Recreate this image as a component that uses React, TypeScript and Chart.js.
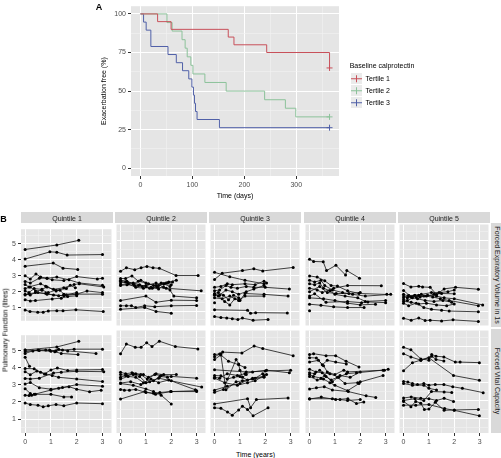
import React, { useEffect, useRef } from 'react';
import { Chart, registerables } from 'chart.js';
Chart.register(...registerables);

const FONT = "'Liberation Sans', Arial, Helvetica, sans-serif";
Chart.defaults.font.family = FONT;

// ---------------- Panel A : Kaplan-Meier ----------------
const tertileNames = ['Tertile 1', 'Tertile 2', 'Tertile 3'];
const tertileColors = ['#C8505A', '#8CC29A', '#5060A8'];
const t1Days = [0, 33, 59, 169, 180, 243, 364];
const t1Surv = [100, 95, 90, 85, 80, 75, 65];
const t2Days = [0, 51, 61, 80, 86, 90, 97, 101, 124, 165, 239, 279, 299, 364];
const t2Surv = [100, 94.4, 88.9, 83.3, 77.8, 72.2, 66.7, 61.1, 55.6, 50, 44.4, 38.9, 33.3, 33.3];
const t3Days = [0, 6, 11, 20, 53, 69, 81, 93, 99, 102, 104, 106, 109, 152, 364];
const t3Surv = [100, 94.7, 89.5, 78.9, 73.7, 68.4, 63.2, 57.9, 52.6, 47.4, 42.1, 36.8, 31.6, 26.3, 26.3];
const kmXTicks = [0, 100, 200, 300];
const kmXMinor = [50, 150, 250, 350];
const kmYTicks = [0, 25, 50, 75, 100];
const kmYMinor = [12.5, 37.5, 62.5, 87.5];

// ---------------- Panel B : lung function ----------------
const quintiles = ['Quintile 1', 'Quintile 2', 'Quintile 3', 'Quintile 4', 'Quintile 5'];
const measures = ['Forced Expiratory Volume in 1s', 'Forced Vital Capacity'];
const yearTicks = [0, 1, 2, 3];
const yearMinor = [0.5, 1.5, 2.5];
const litreTicks = [1, 2, 3, 4, 5];
const litreMinor = [0.5, 1.5, 2.5, 3.5, 4.5, 5.5];

type Pt = [number, number];

const q1Fev1: Pt[][] = [
  [[0, 4.65], [1.23, 4.93], [2.08, 5.22]],
  [[0, 4.05], [0.96, 4.5], [1.23, 4.48], [1.63, 4.3], [3.0, 4.33]],
  [[0, 3.6], [1.09, 3.8], [1.47, 3.48], [2.04, 3.4]],
  [[0, 3.0], [0.2, 2.8], [0.42, 3.12], [0.6, 2.92], [0.85, 2.85], [1.23, 2.92], [1.7, 2.75], [2.1, 2.55], [3.0, 2.4]],
  [[0, 2.65], [0.2, 2.55], [0.55, 2.85], [0.85, 2.85], [1.05, 2.75], [1.5, 2.7], [2.0, 2.95], [2.8, 2.8], [3.0, 2.85]],
  [[0, 2.45], [0.15, 2.3], [0.6, 2.5], [0.8, 2.35], [1.1, 2.15], [1.5, 2.25], [1.9, 2.45], [2.1, 2.5], [3.05, 2.3]],
  [[0, 2.2], [0.2, 2.3], [0.4, 2.05], [0.65, 2.1], [0.9, 1.95], [1.2, 2.1], [1.6, 2.2], [1.75, 2.4], [1.95, 2.25]],
  [[0, 2.05], [0.15, 1.95], [0.35, 2.2], [0.65, 2.15], [0.85, 2.3], [1.2, 2.05], [1.35, 2.1], [1.5, 1.85], [2.0, 1.85], [2.4, 2.05], [3.0, 1.95]],
  [[0, 1.85], [0.2, 1.8], [0.4, 1.95], [0.8, 1.9], [1.1, 1.8], [1.5, 1.75], [2.0, 1.85], [3.0, 1.85]],
  [[0, 1.8], [0.15, 1.88], [0.5, 1.95], [0.85, 1.85], [1.3, 1.75], [1.6, 1.8], [2.0, 1.95]],
  [[0, 1.5], [0.2, 1.42], [0.4, 1.45], [1.05, 1.55], [1.4, 1.6], [1.65, 1.7], [2.0, 1.75]],
  [[0, 0.85], [0.19, 0.76], [0.49, 0.72], [0.7, 0.72], [0.9, 0.8], [1.23, 0.81], [1.47, 0.81], [1.97, 0.87], [3.03, 0.76]],
];

const q2Fev1: Pt[][] = [
  [[0, 3.26], [0.23, 3.46], [0.56, 3.35], [0.81, 3.46], [1.04, 3.54], [1.28, 3.46], [1.53, 3.43], [2.19, 3.02], [3.06, 3.02]],
  [[0, 2.85], [0.2, 2.85], [0.45, 3.0], [0.7, 2.7], [1.0, 2.6], [1.3, 2.45], [1.6, 2.6], [1.9, 2.65], [2.2, 2.75]],
  [[0, 2.75], [0.25, 2.7], [0.5, 2.55], [0.8, 2.75], [1.1, 2.55], [1.4, 2.45], [1.7, 2.55], [1.95, 2.4]],
  [[0, 2.6], [0.2, 2.65], [0.5, 2.6], [0.75, 2.5], [1.0, 2.4], [1.25, 2.3], [1.5, 2.45], [1.8, 2.6], [2.0, 2.5]],
  [[0, 2.5], [0.3, 2.55], [0.6, 2.35], [0.9, 2.3], [1.2, 2.35], [1.5, 2.25], [1.85, 2.6], [2.05, 2.65]],
  [[0, 2.45], [0.25, 2.5], [0.55, 2.45], [0.85, 2.4], [1.15, 2.3], [1.45, 2.35], [1.8, 2.3], [3.18, 2.15]],
  [[0, 2.7], [0.3, 2.6], [0.7, 2.45], [1.0, 2.45], [1.4, 2.6], [1.7, 2.35], [1.95, 2.2], [2.1, 1.85], [3.0, 1.75]],
  [[0, 1.6], [1.0, 1.85], [1.4, 1.5], [2.0, 1.62], [3.0, 1.6]],
  [[0, 1.3], [0.23, 1.3], [0.43, 1.3], [0.6, 1.2], [0.95, 1.3], [1.35, 1.25], [2.0, 1.3], [3.0, 1.32]],
  [[0, 1.1], [0.95, 1.2], [1.4, 0.98], [2.0, 0.88]],
];

const q3Fev1: Pt[][] = [
  [[0, 2.8], [0.3, 3.15], [1.1, 3.3], [1.55, 3.4], [1.9, 3.28], [3.1, 3.48]],
  [[0, 3.2], [0.6, 2.95], [1.2, 2.75], [1.95, 2.55]],
  [[0, 2.35], [0.25, 2.4], [0.5, 2.55], [0.7, 2.5], [1.2, 2.55], [1.6, 2.5], [1.95, 2.7], [2.05, 2.6]],
  [[0, 2.15], [0.2, 2.2], [0.45, 2.45], [0.65, 2.35], [0.9, 2.3], [1.25, 2.4], [1.55, 2.35], [2.0, 2.35], [2.95, 2.25]],
  [[0, 2.0], [0.15, 2.05], [0.35, 1.9], [0.55, 1.65], [0.75, 1.9], [0.95, 1.75], [1.0, 1.6], [1.2, 2.0], [1.95, 1.95], [2.9, 1.85]],
  [[0, 1.95], [0.2, 1.9], [0.45, 2.2], [0.7, 2.1], [0.95, 1.95], [1.25, 2.1], [1.55, 2.25], [1.95, 2.45]],
  [[0, 1.9], [0.15, 1.85], [0.4, 1.55], [0.6, 1.35], [0.8, 1.7], [1.0, 1.65], [1.2, 1.85], [1.95, 1.85]],
  [[0, 1.75], [0.3, 1.7], [0.6, 1.85], [0.95, 1.6]],
  [[0, 1.48]],
  [[0, 1.07], [1.3, 1.04], [1.42, 0.87], [1.62, 0.91], [2.87, 0.89]],
  [[0, 0.69], [0.25, 0.63], [0.48, 0.61], [0.7, 0.57], [0.92, 0.52], [1.1, 0.6], [1.52, 0.48], [2.11, 0.52]],
];

const q4Fev1: Pt[][] = [
  [[0, 3.95], [0.16, 3.82], [0.54, 3.8], [0.67, 3.3], [1.04, 3.6], [1.42, 3.05], [1.47, 3.3], [1.97, 2.87]],
  [[0, 3.0], [0.3, 2.93], [0.6, 2.72], [0.85, 2.45], [1.1, 2.42], [1.5, 2.15], [1.95, 2.0], [3.05, 1.95]],
  [[0, 2.75], [0.2, 2.65], [0.45, 2.75], [0.6, 2.45], [0.9, 2.2], [1.3, 2.05], [1.7, 1.95], [2.2, 1.85], [3.2, 1.95]],
  [[0, 2.55], [0.2, 2.5], [0.4, 2.6], [0.55, 2.3], [0.8, 2.15], [1.0, 1.95], [1.4, 1.85], [1.9, 1.75], [2.2, 1.55], [3.0, 1.6]],
  [[0, 2.3], [0.3, 2.2], [0.5, 2.05], [0.95, 2.3], [1.5, 2.45], [2.83, 2.44]],
  [[0, 2.1], [0.4, 2.4], [0.7, 2.05], [1.05, 2.0], [1.55, 2.0], [2.0, 2.05]],
  [[0, 1.85], [0.2, 1.98], [0.65, 1.5], [1.5, 1.54], [2.05, 1.48], [2.3, 1.52], [3.0, 1.48]],
  [[0, 1.75], [0.55, 1.7], [1.0, 1.6], [1.5, 1.45], [2.0, 1.35], [2.6, 1.39]],
  [[0, 1.39], [0.45, 1.33], [0.95, 1.24], [1.5, 1.2], [2.15, 1.2]],
  [[0, 1.02]],
];

const q5Fev1: Pt[][] = [
  [[0, 2.56], [0.29, 2.37], [0.6, 2.41], [0.75, 2.37], [1.05, 2.35], [1.3, 1.94], [1.6, 2.26], [2.05, 2.35], [2.95, 2.24]],
  [[0, 2.17], [0.3, 1.8], [0.6, 1.9], [0.9, 1.85], [1.2, 1.95], [1.5, 2.0], [2.0, 1.98]],
  [[0, 1.95], [0.2, 1.85], [0.45, 1.9], [0.7, 1.95], [1.1, 2.05], [1.4, 2.05], [1.75, 2.1], [2.0, 2.2]],
  [[0, 1.85], [0.15, 1.75], [0.4, 1.85], [0.65, 1.8], [0.95, 1.9], [1.3, 1.85], [1.6, 1.75], [2.0, 1.7], [3.12, 1.35]],
  [[0, 1.75], [0.2, 1.9], [0.5, 1.8], [0.8, 1.85], [1.15, 1.8], [1.45, 1.7], [1.8, 1.6], [2.95, 1.3]],
  [[0, 1.65], [0.15, 1.6], [0.35, 1.75], [0.55, 1.7], [0.85, 1.6], [1.2, 1.55], [1.55, 1.6], [1.9, 1.5]],
  [[0, 1.55], [0.3, 1.5], [0.6, 1.4], [0.9, 1.45], [1.3, 1.35], [1.7, 1.3], [2.0, 1.4]],
  [[0, 1.45], [0.2, 1.3], [0.5, 1.45], [0.8, 1.2], [1.1, 1.1], [1.5, 1.05], [1.8, 1.0], [2.95, 0.96]],
  [[0, 0.59], [0.3, 0.48], [0.6, 0.6], [0.85, 0.47], [1.05, 0.48], [1.5, 0.44], [1.95, 0.5], [2.95, 0.41]],
];

const q1Fvc: Pt[][] = [
  [[0, 5.05], [1.23, 5.23], [2.08, 5.56]],
  [[0, 4.95], [0.5, 5.05], [0.95, 5.05], [1.2, 5.0], [1.45, 5.05], [1.9, 5.1], [3.0, 5.1]],
  [[0, 4.85], [0.3, 5.0], [0.8, 5.05], [1.15, 4.95], [1.4, 4.85], [2.05, 4.78]],
  [[0, 5.05], [0.55, 5.02], [1.0, 4.98], [1.3, 5.1], [1.65, 5.0], [2.75, 4.85]],
  [[0, 4.62], [0.17, 4.1]],
  [[0, 3.97], [0.35, 3.95], [0.6, 3.75], [0.8, 3.65], [1.05, 3.55], [1.3, 3.45], [2.0, 3.35], [3.0, 3.2]],
  [[0, 3.78], [0.2, 3.6], [0.45, 3.82], [0.75, 3.65], [1.0, 3.88], [1.25, 4.0], [1.65, 3.85], [2.0, 3.88], [3.0, 3.9]],
  [[0, 3.38], [0.2, 3.35], [0.55, 3.4], [1.1, 3.7], [1.4, 3.75], [2.0, 3.8], [3.05, 3.78]],
  [[0, 3.05], [0.2, 3.14], [0.55, 2.84], [1.0, 2.75], [1.45, 2.85], [2.0, 3.02], [3.0, 2.93]],
  [[0, 2.78], [0.2, 2.5], [0.25, 2.39], [0.4, 2.45], [1.0, 2.45], [1.5, 2.3], [1.8, 2.3]],
  [[0, 2.4], [0.15, 2.38], [0.35, 2.45], [1.0, 2.7], [1.3, 2.8], [1.7, 2.9], [2.0, 2.75], [2.5, 2.6], [2.95, 2.69]],
  [[0, 1.94], [0.2, 1.85], [0.5, 1.81], [0.7, 1.72], [0.9, 1.78], [1.2, 1.85], [1.5, 1.78], [2.0, 1.94], [3.0, 1.9]],
];

const q2Fvc: Pt[][] = [
  [[0, 4.62], [0.23, 5.16], [0.58, 4.98], [0.81, 4.98], [1.03, 5.23], [1.24, 5.02], [1.53, 5.32], [2.16, 5.02], [3.05, 4.89]],
  [[0, 3.58], [0.2, 3.5], [0.45, 3.55], [0.6, 3.5], [0.9, 3.45], [1.1, 3.3], [1.4, 3.5], [1.7, 3.45], [2.2, 3.45]],
  [[0, 3.45], [0.25, 3.4], [0.5, 3.5], [0.8, 3.45], [1.05, 3.2], [1.35, 3.45], [1.6, 3.4], [2.0, 3.35], [3.0, 3.25]],
  [[0, 3.3], [0.2, 3.4], [0.5, 3.45], [0.75, 3.35], [1.0, 3.0], [1.3, 3.1], [1.55, 3.35], [1.85, 3.3]],
  [[0, 3.2], [0.3, 3.35], [0.6, 3.3], [0.9, 3.0], [1.2, 3.2], [1.5, 3.0], [1.9, 3.15], [2.95, 2.6]],
  [[0, 2.98], [0.4, 3.05], [0.8, 2.9], [1.15, 3.05], [1.5, 3.25], [2.0, 3.1], [3.2, 2.75]],
  [[0, 2.62], [0.15, 2.58], [0.35, 2.58], [0.6, 2.62], [1.0, 2.45], [1.3, 2.4], [1.55, 2.45], [2.0, 2.5], [3.0, 2.55]],
  [[0, 2.95], [0.5, 2.85], [1.0, 2.65], [1.3, 2.5], [1.6, 2.3], [2.0, 1.8]],
  [[0, 2.08], [0.96, 2.5], [1.38, 2.35], [1.97, 2.5], [3.0, 2.5]],
];

const q3Fvc: Pt[][] = [
  [[0, 4.57], [0.25, 4.62], [0.32, 4.71], [1.08, 4.66], [1.56, 5.05], [1.9, 4.91], [3.1, 4.51]],
  [[0, 4.45], [0.2, 4.6], [0.55, 4.2], [0.95, 4.0], [1.2, 3.85]],
  [[0, 4.3], [0.25, 4.55], [0.45, 2.6], [0.85, 3.05], [1.1, 3.1], [1.5, 3.2], [1.95, 3.3]],
  [[0, 2.46], [0.35, 2.62], [0.85, 4.3], [0.95, 4.05], [1.0, 3.7], [1.1, 3.3], [1.25, 3.45]],
  [[0, 3.72], [1.25, 3.6], [2.0, 3.65], [3.0, 3.7]],
  [[0, 3.4], [0.25, 3.38], [0.5, 3.2], [0.75, 3.3], [1.0, 3.35], [1.3, 3.15], [1.6, 3.25], [1.9, 3.5], [2.05, 3.45]],
  [[0, 3.3], [0.2, 3.25], [0.5, 3.5], [0.9, 3.4], [1.2, 3.5], [1.5, 3.6], [2.05, 3.7], [2.95, 3.55]],
  [[0, 3.25], [0.4, 3.0], [0.9, 2.85], [1.3, 3.0], [1.6, 3.1], [1.95, 3.4]],
  [[0, 2.58], [0.5, 2.8], [1.0, 2.95], [1.5, 3.25], [1.95, 3.35]],
  [[0, 1.81], [1.3, 2.1], [1.42, 1.6], [1.65, 2.05], [2.9, 2.14]],
  [[0, 1.59], [0.25, 1.56], [0.51, 1.36], [0.7, 1.18], [0.95, 1.47], [1.1, 1.68], [1.3, 1.5], [1.52, 1.14], [2.11, 1.59]],
];

const q4Fvc: Pt[][] = [
  [[0, 4.57], [0.16, 4.62], [0.65, 4.51], [1.03, 4.51], [1.44, 4.2], [1.95, 3.88]],
  [[0, 4.4], [0.27, 4.38], [0.5, 4.0], [0.7, 4.25], [1.03, 4.15], [1.45, 4.05]],
  [[0, 4.15], [0.35, 4.25], [0.55, 3.95], [0.7, 3.6], [1.0, 3.45], [1.35, 3.7], [1.5, 3.6], [2.95, 3.7], [3.1, 3.75]],
  [[0, 3.75], [0.25, 3.6], [0.5, 3.55], [0.8, 3.5], [1.15, 3.3], [1.45, 3.5], [1.85, 3.55], [2.9, 3.7]],
  [[0, 3.55], [0.2, 3.5], [0.4, 3.7], [0.65, 3.35], [0.9, 3.05], [1.2, 3.4], [1.6, 3.3], [2.0, 3.6]],
  [[0, 3.45], [0.15, 3.35], [0.45, 3.25], [0.6, 3.4], [0.85, 3.15], [1.1, 3.3], [1.4, 2.95], [1.9, 3.0], [2.9, 3.4]],
  [[0, 3.35], [0.3, 3.15], [0.55, 3.2], [0.8, 3.0], [1.0, 2.85], [1.5, 2.55], [1.95, 2.95], [2.0, 3.05]],
  [[0, 2.64], [0.27, 2.71], [0.58, 2.77], [0.9, 2.59], [1.53, 2.5], [2.23, 2.26], [2.61, 2.17]],
  [[0, 2.08], [0.46, 2.19], [1.03, 2.05], [1.51, 2.1], [1.85, 1.83], [2.14, 1.92]],
  [[0, 2.1], [0.9, 2.1], [1.2, 2.05], [1.5, 2.0], [2.0, 2.05]],
];

const q5Fvc: Pt[][] = [
  [[0, 4.98], [0.29, 4.84], [0.68, 4.33], [1.0, 4.26], [1.11, 4.57], [1.28, 4.48], [1.59, 4.44], [2.04, 4.15], [2.23, 4.15], [2.99, 4.12]],
  [[0, 4.62], [0.29, 4.44], [0.68, 4.26], [1.11, 4.48], [1.28, 4.3], [1.59, 4.21]],
  [[0, 3.67], [0.35, 4.12], [0.68, 4.26], [1.0, 4.39], [1.97, 3.4], [2.99, 3.13]],
  [[0, 3.07], [0.17, 3.03], [0.35, 2.95], [0.55, 2.89], [0.8, 2.95], [1.0, 2.86], [1.25, 2.89], [1.59, 2.89], [1.94, 2.77], [2.32, 2.68], [3.14, 2.44]],
  [[0, 2.95], [0.35, 2.86], [0.8, 2.86], [1.0, 2.68], [1.3, 2.59]],
  [[0, 2.14], [0.3, 2.2], [0.68, 2.12], [1.0, 2.1], [1.3, 2.0], [1.6, 2.12], [1.97, 1.95]],
  [[0, 2.0], [0.45, 2.1], [0.8, 2.0], [1.1, 2.5], [1.6, 2.48], [1.9, 2.45]],
  [[0, 1.95], [0.29, 1.65], [0.48, 1.95], [0.68, 1.85], [0.82, 1.5], [1.0, 1.52], [1.25, 1.9], [1.6, 1.45], [2.0, 1.47], [2.95, 1.5]],
  [[0, 1.74], [0.48, 1.74], [1.0, 1.77], [1.62, 1.55], [2.0, 1.45], [2.99, 1.14]],
];

const facetData: Pt[][][][] = [
  [q1Fev1, q2Fev1, q3Fev1, q4Fev1, q5Fev1],
  [q1Fvc, q2Fvc, q3Fvc, q4Fvc, q5Fvc],
];

// ---------------- layout ----------------
const PANEL_LEFT = [21, 115, 209, 304, 398];
const PANEL_W = 92;
const PANEL_TOP = [223, 329];
const PANEL_H = 104;
const STRIP_BG = '#D9D9D9';
const PANEL_BG = '#E5E5E5';
const TICK_COLOR = '#4D4D4D';

const panelBg = {
  id: 'panelBg',
  beforeDraw(chart: any) {
    const { ctx, chartArea: a } = chart;
    ctx.save();
    ctx.fillStyle = PANEL_BG;
    ctx.fillRect(a.left, a.top, a.right - a.left, a.bottom - a.top);
    ctx.restore();
  },
};

// keeps the legend box at a fixed width and places it beside the panel
const legendPlacer = {
  id: 'legendPlacer',
  beforeLayout(chart: any) {
    const lg = chart.legend;
    if (lg && !lg.__fixed) {
      const fit = lg.fit;
      lg.fit = function (this: any) {
        fit.call(this);
        this.width = 54;
      };
      lg.__fixed = true;
    }
  },
  afterLayout(chart: any) {
    const lg = chart.legend;
    if (!lg) return;
    lg.left = 346;
    lg.width = 72;
    lg.right = 418;
    lg.top = 0;
    lg.bottom = 174;
    lg.height = 174;
  },
};

function gridOpts(majors: number[], showTicks: boolean) {
  const isMajor = (c: any) => !!c.tick && majors.includes(c.tick.value);
  return {
    color: (c: any) => (isMajor(c) ? '#FFFFFF' : '#F2F2F2'),
    lineWidth: (c: any) => (isMajor(c) ? 1 : 0.6),
    drawTicks: showTicks,
    tickLength: 3,
    tickWidth: 1,
    tickColor: (c: any) => (isMajor(c) && showTicks ? '#333333' : 'rgba(0,0,0,0)'),
  };
}

function axis(min: number, max: number, majors: number[], minors: number[], show: boolean, size: number, horizontal: boolean, extra: any = {}) {
  const all = [...majors, ...minors].sort((a, b) => a - b);
  return {
    type: 'linear',
    min,
    max,
    afterBuildTicks: (s: any) => {
      s.ticks = all.map((v) => ({ value: v }));
    },
    afterFit: (s: any) => {
      if (horizontal) s.height = size;
      else s.width = size;
    },
    ticks: {
      display: show,
      autoSkip: false,
      maxRotation: 0,
      padding: 2,
      color: TICK_COLOR,
      font: { size: 7, family: FONT },
      callback: (v: number) => (majors.includes(v) ? String(v) : ''),
    },
    grid: gridOpts(majors, show),
    border: { display: false },
    ...extra,
  };
}

function KmChart() {
  const ref = useRef<HTMLCanvasElement>(null);
  useEffect(() => {
    const makeKey = (color: string) => {
      const c = document.createElement('canvas');
      c.width = 11;
      c.height = 11;
      const g = c.getContext('2d')!;
      g.fillStyle = '#EBEBEB';
      g.fillRect(0, 0, 11, 11);
      g.fillStyle = color;
      g.fillRect(0, 5, 11, 1);
      g.fillRect(5, 2, 1, 7);
      return c;
    };
    const keys = tertileColors.map(makeKey);
    const series = [
      [t1Days, t1Surv],
      [t2Days, t2Surv],
      [t3Days, t3Surv],
    ];
    const chart = new Chart(ref.current!, {
      type: 'line',
      data: {
        datasets: series.map(([days, surv], i) => ({
          label: tertileNames[i],
          data: days.map((d, j) => ({ x: d, y: surv[j] })),
          borderColor: tertileColors[i],
          backgroundColor: tertileColors[i],
          borderWidth: 1,
          stepped: 'before',
          fill: false,
          pointStyle: 'cross',
          pointRadius: (c: any) => (c.dataIndex === days.length - 1 ? 3 : 0),
          pointHoverRadius: 0,
          pointBorderColor: tertileColors[i],
          pointBorderWidth: 1,
        })),
      } as any,
      options: {
        responsive: false,
        animation: false,
        devicePixelRatio: 1,
        layout: { padding: { left: 100, right: 108, top: 3, bottom: 0 } },
        plugins: {
          tooltip: { enabled: false },
          legend: {
            position: 'right',
            align: 'center',
            title: {
              display: true,
              text: 'Baseline calprotectin',
              color: '#000',
              font: { size: 7, family: FONT },
              padding: { top: 0, bottom: -1 },
              position: 'center',
            },
            labels: {
              usePointStyle: true,
              pointStyleWidth: 11,
              boxHeight: 11,
              padding: 5,
              color: '#000',
              font: { size: 7, family: FONT },
              generateLabels: (ch: any) => {
                const items = (Chart.defaults.plugins.legend.labels as any).generateLabels(ch);
                return items.map((it: any, i: number) => ({ ...it, pointStyle: keys[i] }));
              },
            },
          },
        },
        scales: {
          x: axis(-18.2, 382.2, kmXTicks, kmXMinor, true, 26, true, {
            title: { display: true, text: 'Time (days)', color: '#000', font: { size: 7, family: FONT }, padding: { top: 0, bottom: 2 } },
          }),
          y: axis(-5, 105, kmYTicks, kmYMinor, true, 31, false, {
            title: { display: true, text: 'Exacerbation free (%)', color: '#000', font: { size: 7, family: FONT }, padding: { top: 0, bottom: 2 } },
          }),
        } as any,
      } as any,
      plugins: [panelBg, legendPlacer],
    });
    return () => chart.destroy();
  }, []);
  return <canvas ref={ref} width={501} height={202} style={{ position: 'absolute', left: 0, top: 0, width: 501, height: 202 }} />;
}

function Facet({ row, col }: { row: number; col: number }) {
  const ref = useRef<HTMLCanvasElement>(null);
  const showY = col === 0;
  const showX = row === 1;
  const axisW = showY ? 21 : 0;
  const axisH = showX ? 16 : 0;
  const left = PANEL_LEFT[col] - axisW;
  const top = PANEL_TOP[row];
  const width = PANEL_W + axisW;
  const height = PANEL_H + axisH;
  useEffect(() => {
    const subjects = facetData[row][col];
    const chart = new Chart(ref.current!, {
      type: 'scatter',
      data: {
        datasets: subjects.map((pts) => ({
          data: pts.map(([x, y]) => ({ x, y })),
          showLine: true,
          borderColor: '#111111',
          borderWidth: 0.8,
          pointRadius: 1.5,
          pointHoverRadius: 1.5,
          pointBackgroundColor: '#000000',
          pointBorderWidth: 0,
        })),
      },
      options: {
        responsive: false,
        animation: false,
        devicePixelRatio: 1,
        layout: { padding: 0 },
        plugins: { legend: { display: false }, tooltip: { enabled: false } },
        scales: {
          x: axis(-0.16, 3.35, yearTicks, yearMinor, showX, axisH, true),
          y: axis(0.18, 5.92, litreTicks, litreMinor, showY, axisW, false),
        } as any,
      } as any,
      plugins: [panelBg],
    });
    return () => chart.destroy();
  }, [row, col]);
  return <canvas ref={ref} width={width} height={height} style={{ position: 'absolute', left, top, width, height }} />;
}

function Label({ x, y, text, size = 7, bold = false, rotate = 0, color = '#000' }: any) {
  return (
    <div
      style={{
        position: 'absolute',
        left: x,
        top: y,
        transform: `translate(-50%, -50%) rotate(${rotate}deg)`,
        whiteSpace: 'nowrap',
        fontSize: size,
        lineHeight: 1,
        fontWeight: bold ? 'bold' : 'normal',
        color,
        fontFamily: FONT,
        zIndex: 2,
      }}
    >
      {text}
    </div>
  );
}

export default function App() {
  return (
    <div style={{ position: 'absolute', left: 0, top: 0, width: 501, height: 458, overflow: 'hidden', background: '#FFFFFF', fontFamily: FONT }}>
      <KmChart />
      <Label x={99} y={6.5} text="A" size={9} bold />
      <Label x={3.5} y={218.5} text="B" size={9} bold />
      {quintiles.map((q, c) => (
        <div key={q} style={{ position: 'absolute', left: PANEL_LEFT[c], top: 212, width: PANEL_W, height: 11, background: STRIP_BG }}>
          <Label x={PANEL_W / 2} y={5.5} text={q} size={7} color="#1A1A1A" />
        </div>
      ))}
      {measures.map((m, r) => (
        <div key={m} style={{ position: 'absolute', left: 491, top: PANEL_TOP[r], width: 10, height: PANEL_H, background: STRIP_BG }}>
          <Label x={6} y={PANEL_H / 2} text={m} size={7} rotate={90} color="#1A1A1A" />
        </div>
      ))}
      {facetData.map((rowData, r) => rowData.map((_, c) => <Facet key={`${r}-${c}`} row={r} col={c} />))}
      <Label x={4.5} y={330} text="Pulmonary Function (litres)" size={7} rotate={-90} />
      <Label x={255.5} y={453.5} text="Time (years)" size={7} />
    </div>
  );
}
